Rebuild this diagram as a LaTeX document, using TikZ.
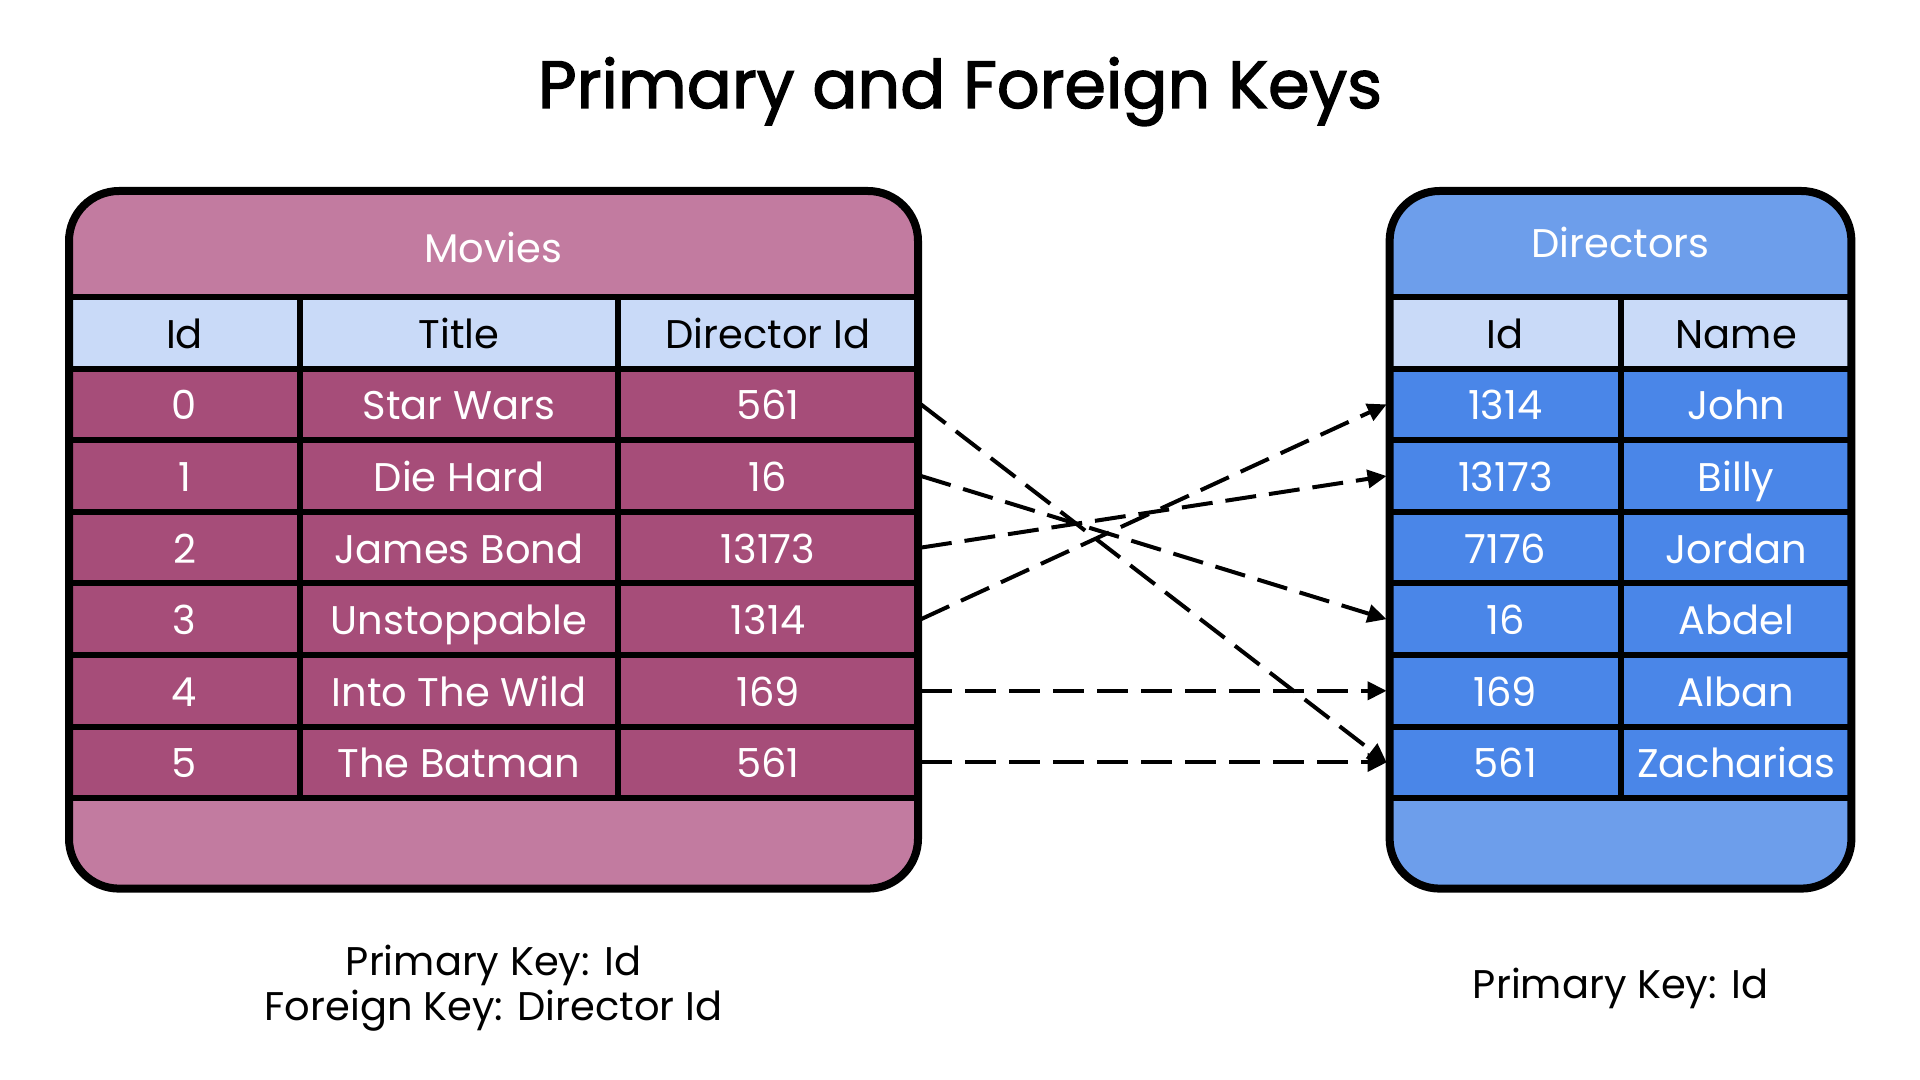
\documentclass[tikz,border=0pt]{standalone}
\usepackage{fontspec}
\setmainfont{Poppins}
\newfontfamily\titlefont[FakeBold=2]{Poppins}
\usetikzlibrary{arrows.meta}
\definecolor{mvband}{HTML}{C27BA0}
\definecolor{mvrow}{HTML}{A64D79}
\definecolor{hdrow}{HTML}{C9DAF8}
\definecolor{drband}{HTML}{6D9EEB}
\definecolor{drrow}{HTML}{4A86E8}
\tikzset{
    cellbase/.style = {rectangle, draw=black, line width=3pt, inner sep=0pt, minimum height=35.8pt, text height=15.5pt, text depth=0pt, font=\fontsize{20}{24}\selectfont},
    hcell/.style = {cellbase, fill=hdrow, text=black},
    mcell/.style = {cellbase, fill=mvrow, text=white},
    dcell/.style = {cellbase, fill=drrow, text=white},
    mwid/.style = {minimum width=115.5pt},
    mwtitle/.style = {minimum width=159pt},
    mwdir/.style = {minimum width=150pt},
    dwid/.style = {minimum width=115.7pt},
    dwname/.style = {minimum width=115.2pt},
    frame/.style = {line width=4pt, draw=black, rounded corners=25pt},
    bandtext/.style = {anchor=base, text=white, font=\fontsize{20}{24}\selectfont},
    notetext/.style = {anchor=base, text=black, font=\fontsize{20}{24}\selectfont},
    edgefk/.style = {-{Triangle[length=9.5pt,width=9pt]}, line width=2pt, black, dash pattern=on 15.5pt off 6.5pt}, % foreign key
}

\begin{document}
\begin{tikzpicture}[x=1pt, y=-1pt]
\useasboundingbox (0,0) rectangle (960,540);
%
\node[anchor=base, font=\fontsize{33.4}{40}\titlefont] at (480, 54) (title) {Primary and Foreign Keys};
%
\fill[mvband, rounded corners=25pt] (34.5,95.5) rectangle (459,444.3);
\node[bandtext] at (246.75, 131.3) (mlabel) {Movies};
\node[hcell, mwid] at (92.25, 166.4) (mhid) {Id};
\node[hcell, mwtitle] at (229.5, 166.4) (mhtitle) {Title};
\node[hcell, mwdir] at (384, 166.4) (mhdir) {Director Id};
\node[mcell, mwid] at (92.25, 202.2) (m0id) {0};
\node[mcell, mwtitle] at (229.5, 202.2) (m0title) {Star Wars};
\node[mcell, mwdir] at (384, 202.2) (m0dir) {561};
\node[mcell, mwid] at (92.25, 238) (m1id) {1};
\node[mcell, mwtitle] at (229.5, 238) (m1title) {Die Hard};
\node[mcell, mwdir] at (384, 238) (m1dir) {16};
\node[mcell, mwid] at (92.25, 273.8) (m2id) {2};
\node[mcell, mwtitle] at (229.5, 273.8) (m2title) {James Bond};
\node[mcell, mwdir] at (384, 273.8) (m2dir) {13173};
\node[mcell, mwid] at (92.25, 309.6) (m3id) {3};
\node[mcell, mwtitle] at (229.5, 309.6) (m3title) {Unstoppable};
\node[mcell, mwdir] at (384, 309.6) (m3dir) {1314};
\node[mcell, mwid] at (92.25, 345.4) (m4id) {4};
\node[mcell, mwtitle] at (229.5, 345.4) (m4title) {Into The Wild};
\node[mcell, mwdir] at (384, 345.4) (m4dir) {169};
\node[mcell, mwid] at (92.25, 381.2) (m5id) {5};
\node[mcell, mwtitle] at (229.5, 381.2) (m5title) {The Batman};
\node[mcell, mwdir] at (384, 381.2) (m5dir) {561};
\draw[frame] (34.5,95.5) rectangle (459,444.3);
%
\fill[drband, rounded corners=25pt] (694.8,95.5) rectangle (925.7,444.3);
\node[bandtext] at (810.25, 128.7) (dlabel) {Directors};
\node[hcell, dwid] at (752.65, 166.4) (dhid) {Id};
\node[hcell, dwname] at (868.1, 166.4) (dhname) {Name};
\node[dcell, dwid] at (752.65, 202.2) (d0id) {1314};
\node[dcell, dwname] at (868.1, 202.2) (d0name) {John};
\node[dcell, dwid] at (752.65, 238) (d1id) {13173};
\node[dcell, dwname] at (868.1, 238) (d1name) {Billy};
\node[dcell, dwid] at (752.65, 273.8) (d2id) {7176};
\node[dcell, dwname] at (868.1, 273.8) (d2name) {Jordan};
\node[dcell, dwid] at (752.65, 309.6) (d3id) {16};
\node[dcell, dwname] at (868.1, 309.6) (d3name) {Abdel};
\node[dcell, dwid] at (752.65, 345.4) (d4id) {169};
\node[dcell, dwname] at (868.1, 345.4) (d4name) {Alban};
\node[dcell, dwid] at (752.65, 381.2) (d5id) {561};
\node[dcell, dwname] at (868.1, 381.2) (d5name) {Zacharias};
\draw[frame] (694.8,95.5) rectangle (925.7,444.3);
%
\draw[edgefk] (m0dir.east) -- (d5id.west);
\draw[edgefk] (m1dir.east) -- (d3id.west);
\draw[edgefk] (m2dir.east) -- (d1id.west);
\draw[edgefk] (m3dir.east) -- (d0id.west);
\draw[edgefk] (m4dir.east) -- (d4id.west);
\draw[edgefk] (m5dir.east) -- (d5id.west);
%
\node[notetext] at (246.75, 487.5) (mpk) {Primary Key: Id};
\node[notetext] at (246.75, 510) (mfk) {Foreign Key: Director Id};
\node[notetext] at (810.25, 499) (dpk) {Primary Key: Id};
\end{tikzpicture}
\end{document}
